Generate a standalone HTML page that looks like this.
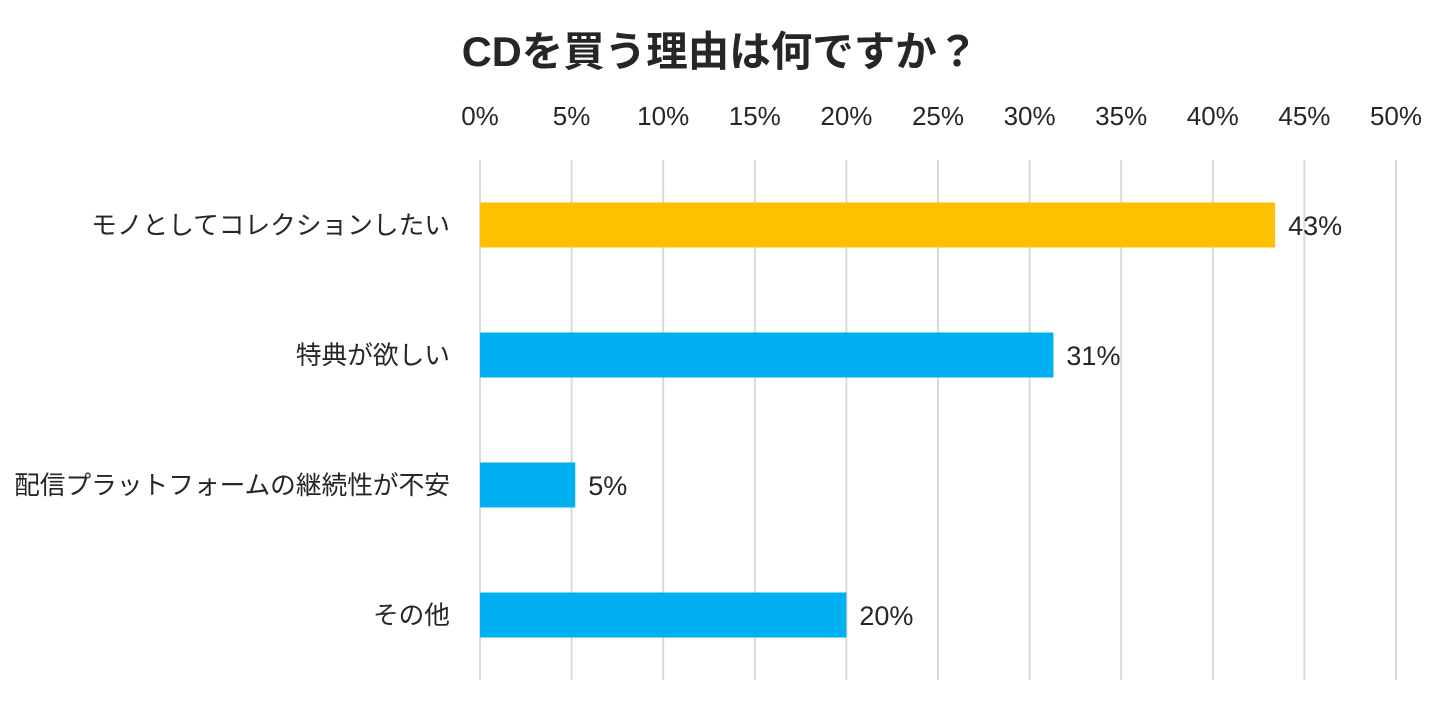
<!DOCTYPE html>
<html><head><meta charset="utf-8">
<style>
html,body{margin:0;padding:0;background:#fff;}
body{width:1448px;height:704px;overflow:hidden;font-family:"Liberation Sans","Noto Sans CJK JP",sans-serif;}
</style></head>
<body>
<svg id="chart" width="1448" height="704" xmlns="http://www.w3.org/2000/svg">
<text x="720" y="66" text-anchor="middle" font-size="41.5" font-weight="bold" fill="#262626" font-family="Liberation Sans, Noto Sans CJK JP, sans-serif">CDを買う理由は何ですか？</text>
<g id="grid"></g><g id="ticks"></g><g id="bars"></g><g id="cats"></g><g id="vals"></g>
</svg>
<script>
const categories = ["モノとしてコレクションしたい","特典が欲しい","配信プラットフォームの継続性が不安","その他"];
const values = [43.4, 31.3, 5.2, 20.0];
const valueLabels = ["43%","31%","5%","20%"];
const tickValues = [0,5,10,15,20,25,30,35,40,45,50];
const tickLabels = ["0%","5%","10%","15%","20%","25%","30%","35%","40%","45%","50%"];
const colors = ["#FFC000","#00B0F0","#00B0F0","#00B0F0"];

const NS="http://www.w3.org/2000/svg";
const x0=480, x1=1396, xmax=50;
const xs=v=>x0+(x1-x0)*v/xmax;
const yTop=160, yBot=680, band=130, firstBand=160, barH=45;
const yc=i=>firstBand+band*i+65;
function mk(t,a,p){const e=document.createElementNS(NS,t);for(const k in a)e.setAttribute(k,a[k]);p.appendChild(e);return e;}
const grid=document.getElementById('grid'),ticks=document.getElementById('ticks'),bars=document.getElementById('bars'),cats=document.getElementById('cats'),vals=document.getElementById('vals');
tickValues.forEach((v,i)=>{
  const l=mk('line',{x1:xs(v),x2:xs(v),y1:yTop,y2:yBot,stroke:'#d9d9d9','stroke-width':2},grid);
  
  
  const t=mk('text',{x:xs(v),y:125,'text-anchor':'middle','font-size':26,fill:'#262626'},ticks);
  t.textContent=tickLabels[i];
  
  
});
categories.forEach((c,i)=>{
  const r=mk('rect',{x:xs(0),y:yc(i)-barH/2,width:xs(values[i])-xs(0),height:barH,fill:colors[i]},bars);
  
  
  const t=mk('text',{x:450,y:yc(i)+9,'text-anchor':'end','font-size':25.7,fill:'#262626'},cats);
  t.textContent=c;
  
  
  const v=mk('text',{x:xs(values[i])+13,y:yc(i)+10,'font-size':27,fill:'#262626'},vals);
  v.textContent=valueLabels[i];
  
  
});
</script>
</body></html>
